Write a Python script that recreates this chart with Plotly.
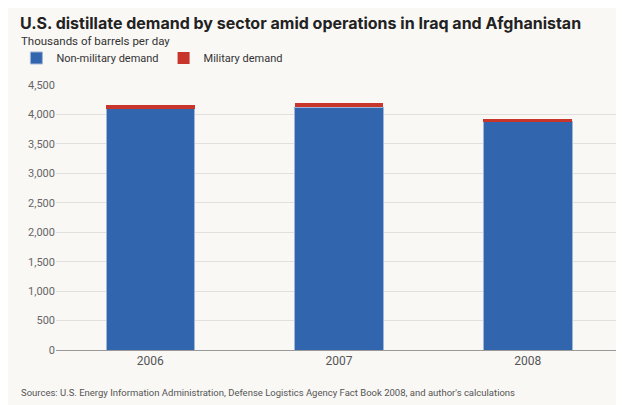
import plotly.graph_objects as go

years = ["2006", "2007", "2008"]
non_military = [4100, 4125, 3875]
military = [60, 65, 55]

fig = go.Figure()
fig.add_trace(go.Bar(x=years, y=non_military, name="Non-military demand",
                     marker=dict(color="#3165ad", line=dict(color="#9fb6d8", width=1))))
fig.add_trace(go.Bar(x=years, y=military, name="Military demand",
                     marker=dict(color="#c8352b", line=dict(width=0))))

fig.update_layout(
    barmode="stack", bargap=0.53,
    width=624, height=405,
    paper_bgcolor="#f9f8f5", plot_bgcolor="#f9f8f5",
    font=dict(family="Roboto, Arial", color="#555", size=11),
    margin=dict(l=48, r=10, t=77, b=63, autoexpand=False),
    legend=dict(orientation="h", x=-0.07, xanchor="left", y=1.102, yanchor="middle",
                font=dict(size=11, color="#333"), traceorder="normal",
                bgcolor="rgba(0,0,0,0)"),
    showlegend=True,
    xaxis=dict(showline=True, linecolor="#999", tickfont=dict(size=12, color="#555")),
    yaxis=dict(range=[0, 4500], dtick=500, tickformat=",", gridcolor="#e2e0dc",
               zeroline=False, tickfont=dict(size=11, color="#666")),
)
fig.add_annotation(text="<b>U.S. distillate demand by sector amid operations in Iraq and Afghanistan</b>",
                   xref="paper", yref="paper", x=-0.067, y=1.234, xanchor="left", yanchor="middle",
                   showarrow=False, font=dict(size=16, color="#222", family="Inter, Roboto, Arial"))
fig.add_annotation(text="Thousands of barrels per day", xref="paper", yref="paper",
                   x=-0.065, y=1.166, xanchor="left", yanchor="middle", showarrow=False,
                   font=dict(size=11.5, color="#333"))
fig.add_annotation(text="Sources: U.S. Energy Information Administration, Defense Logistics Agency Fact Book 2008, and author's calculations",
                   xref="paper", yref="paper", x=-0.065, y=-0.162, xanchor="left", yanchor="middle",
                   showarrow=False, font=dict(size=9.5, color="#555"))
fig.write_html("out.html")
